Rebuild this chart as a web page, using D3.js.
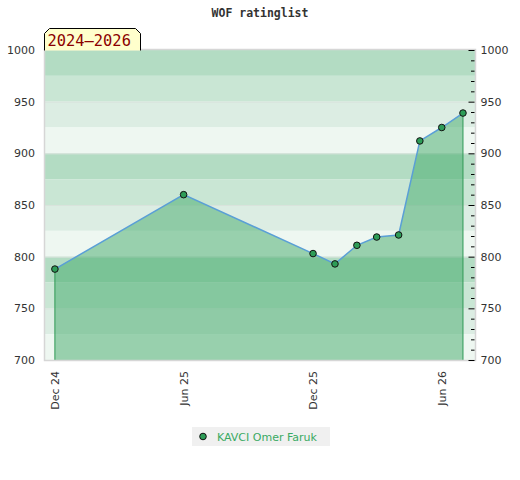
<!DOCTYPE html>
<html>
<head>
<meta charset="utf-8">
<script src="https://cdn.jsdelivr.net/npm/d3@7"></script>
<style>
  body { margin: 0; background: #fff; }
  .axis text { font-family: "DejaVu Sans", sans-serif; font-size: 11px; fill: #333; }
</style>
</head>
<body>
<div class="chart"></div>
<script>
// DATA ------------------------------------

const months = [
  "2024-12-01", "2025-06-01", "2025-12-01", "2026-01-01", "2026-02-01",
  "2026-03-01", "2026-04-01", "2026-05-01", "2026-06-01", "2026-07-01"
];
const ratings = [788, 860, 803, 793, 811, 819, 821, 912, 925, 939];
const xTicks = ["2024-12-01", "2025-06-01", "2025-12-01", "2026-06-01"];
const yTicks = [700, 750, 800, 850, 900, 950, 1000];
const playerName = "KAVCI Omer Faruk";
const titleText = "WOF ratinglist";
const periodText = "2024\u20132026";

// CHART INIT ------------------------------

const margin = { top: 50, left: 45, right: 45, bottom: 120 };
const totalWidth = 520;
const totalHeight = 480;
const width = totalWidth - margin.left - margin.right,
  height = totalHeight - margin.top - margin.bottom;

const parse = d3.timeParse("%Y-%m-%d");
const data = months.map((m, i) => ({ date: parse(m), rating: ratings[i] }));

const root = d3
  .select(".chart")
  .append("svg")
  .attr("width", totalWidth)
  .attr("height", totalHeight);

const svg = root
  .append("g")
  .attr("transform", "translate(" + margin.left + "," + margin.top + ")");

const xScale = d3
  .scaleTime()
  .domain([new Date(2024, 10, 17), new Date(2026, 6, 18)])
  .range([0, width]);

const yScale = d3.scaleLinear().domain([700, 1000]).range([height, 0]);

// background bands, 25 points each, cycle of 4 shades
const bandColors = ["#b3dcc3", "#c9e6d4", "#dcede3", "#eef7f1"];
const bands = d3.range(1000, 700, -25);

svg
  .selectAll(".band")
  .data(bands)
  .enter()
  .append("rect")
  .attr("class", "band")
  .attr("x", 0)
  .attr("width", width)
  .attr("y", (d) => yScale(d))
  .attr("height", (d) => yScale(d - 25) - yScale(d))
  .attr("fill", (d, i) => bandColors[i % 4]);

// major grid lines
svg
  .selectAll(".grid")
  .data(yTicks.slice(1, -1))
  .enter()
  .append("line")
  .attr("class", "grid")
  .attr("x1", 0)
  .attr("x2", width)
  .attr("y1", (d) => yScale(d) + 0.5)
  .attr("y2", (d) => yScale(d) + 0.5)
  .attr("stroke", "#d9e3dc")
  .attr("stroke-width", 1);

// area under the rating line
const area = d3
  .area()
  .x((d) => xScale(d.date))
  .y0(height)
  .y1((d) => yScale(d.rating));

svg
  .append("path")
  .datum(data)
  .attr("d", area)
  .attr("fill", "#41aa69")
  .attr("fill-opacity", 0.5);

// vertical edges of the area
const ends = [data[0], data[data.length - 1]];
svg
  .selectAll(".edge")
  .data(ends)
  .enter()
  .append("line")
  .attr("class", "edge")
  .attr("x1", (d) => xScale(d.date))
  .attr("x2", (d) => xScale(d.date))
  .attr("y1", (d) => yScale(d.rating))
  .attr("y2", height)
  .attr("stroke", "#2f9a55")
  .attr("stroke-width", 1);

// rating line
const line = d3
  .line()
  .x((d) => xScale(d.date))
  .y((d) => yScale(d.rating));

svg
  .append("path")
  .datum(data)
  .attr("d", line)
  .attr("fill", "none")
  .attr("stroke", "#5a9fd6")
  .attr("stroke-width", 1.5);

// plot frame
svg
  .append("rect")
  .attr("x", -0.5)
  .attr("y", -0.5)
  .attr("width", width + 1)
  .attr("height", height + 1)
  .attr("fill", "none")
  .attr("stroke", "#d6d6d6")
  .attr("stroke-width", 1.5);

// points
svg
  .selectAll(".dot")
  .data(data)
  .enter()
  .append("circle")
  .attr("class", "dot")
  .attr("cx", (d) => xScale(d.date))
  .attr("cy", (d) => yScale(d.rating))
  .attr("r", 3.3)
  .attr("fill", "#2d9c57")
  .attr("stroke", "#111")
  .attr("stroke-width", 1);

// AXES ------------------------------------

const yLeft = d3
  .axisLeft(yScale)
  .tickValues(yTicks)
  .tickSize(0)
  .tickPadding(10)
  .tickFormat(d3.format("d"));
svg.append("g").attr("class", "axis y-left").call(yLeft)
  .call((g) => g.select(".domain").remove());

const yRightMinor = d3
  .axisRight(yScale)
  .tickValues(d3.range(710, 1000, 10).filter((v) => v % 50 !== 0))
  .tickSize(-3.5)
  .tickFormat("");
svg
  .append("g")
  .attr("class", "axis y-right-minor")
  .attr("transform", `translate(${width - 0.5}, 0)`)
  .call(yRightMinor)
  .call((g) => g.select(".domain").remove())
  .call((g) => g.selectAll("line").attr("stroke", "#000"));

const yRight = d3
  .axisRight(yScale)
  .tickValues(yTicks)
  .tickSize(-6)
  .tickPadding(6)
  .tickFormat(d3.format("d"));
svg
  .append("g")
  .attr("class", "axis y-right")
  .attr("transform", `translate(${width - 0.5}, 0)`)
  .call(yRight)
  .call((g) => g.select(".domain").remove())
  .call((g) => g.selectAll("line").attr("stroke", "#000"));

const xAxis = d3
  .axisBottom(xScale)
  .tickValues(xTicks.map(parse))
  .tickSize(0)
  .tickFormat(d3.timeFormat("%b %y"));

svg
  .append("g")
  .attr("class", "axis x-axis")
  .attr("transform", `translate(0, ${height})`)
  .call(xAxis)
  .call((g) => g.select(".domain").remove())
  .selectAll("text")
  .attr("transform", "rotate(-90)")
  .attr("text-anchor", "end")
  .attr("x", -11)
  .attr("y", 0)
  .attr("dy", "0.35em");

// TITLE AND PERIOD LABEL ------------------

root
  .append("text")
  .attr("x", totalWidth / 2)
  .attr("y", 16.5)
  .attr("text-anchor", "middle")
  .attr("font-family", "DejaVu Sans Mono, monospace")
  .attr("font-weight", "bold")
  .attr("font-size", "11.5px")
  .attr("fill", "#333")
  .text(titleText);

const bx = 44.5, by = 28.5, bw = 96, bh = 22, cut = 5;
root
  .append("path")
  .attr(
    "d",
    `M${bx},${by + bh} L${bx},${by + cut} L${bx + cut},${by} L${bx + bw - cut},${by} ` +
      `L${bx + bw},${by + cut} L${bx + bw},${by + bh}`
  )
  .attr("fill", "#ffffcc")
  .attr("stroke", "#000")
  .attr("stroke-width", 1);

root
  .append("text")
  .attr("x", 47.5)
  .attr("y", 45.5)
  .attr("font-family", "DejaVu Sans Mono, monospace")
  .attr("font-size", "15.4px")
  .attr("fill", "#8b0000")
  .text(periodText);

// LEGEND ----------------------------------

const legend = root.append("g").attr("transform", "translate(192, 427)");
legend
  .append("rect")
  .attr("width", 138)
  .attr("height", 19)
  .attr("fill", "#f0f0f0");
legend
  .append("circle")
  .attr("cx", 11)
  .attr("cy", 9.5)
  .attr("r", 3.3)
  .attr("fill", "#2d9c57")
  .attr("stroke", "#111");
legend
  .append("text")
  .attr("x", 25)
  .attr("y", 13.5)
  .attr("font-family", "DejaVu Sans, sans-serif")
  .attr("font-size", "11px")
  .attr("fill", "#3aaa63")
  .text(playerName);
</script>
</body>
</html>
